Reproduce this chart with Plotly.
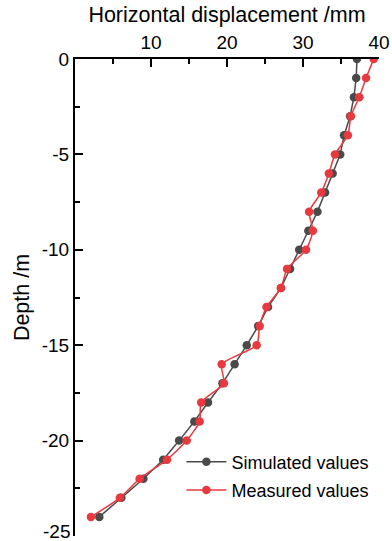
import plotly.graph_objects as go

depth = [0, -1, -2, -3, -4, -5, -6, -7, -8, -9, -10, -11, -12, -13, -14, -15, -16, -17, -18, -19, -20, -21, -22, -23, -24]
simulated = [37.1, 37.0, 36.7, 36.2, 35.4, 34.9, 33.9, 32.9, 31.9, 30.7, 29.5, 28.3, 27.1, 25.4, 24.1, 22.6, 21.0, 19.4, 17.5, 15.7, 13.7, 11.6, 9.0, 6.1, 3.2]
measured = [39.3, 38.3, 37.4, 36.3, 35.9, 34.2, 33.4, 32.4, 30.8, 31.3, 30.4, 27.9, 27.1, 25.2, 24.3, 23.9, 19.3, 19.6, 16.6, 16.4, 14.7, 12.1, 8.5, 5.9, 2.1]

x_ticks = [10, 20, 30, 40]
y_ticks = [0, -5, -10, -15, -20, -25]
y_tick_labels = ["0", "-5", "-10", "-15", "-20", ""]
bottom_label = "-25"

grey = "#4a4a4a"
red = "#e8393f"
font = "Liberation Sans, Arial, sans-serif"

fig = go.Figure()
fig.add_trace(go.Scatter(x=simulated, y=depth, mode="lines+markers", name="Simulated values",
                         line=dict(color=grey, width=1.5), marker=dict(color=grey, size=8.5),
                         legend="legend"))
fig.add_trace(go.Scatter(x=measured, y=depth, mode="lines+markers", name="Measured values",
                         line=dict(color=red, width=1.5, shape="spline", smoothing=0.6),
                         marker=dict(color=red, size=8.5), legend="legend2"))

leg = dict(xanchor="left", yanchor="middle", bgcolor="rgba(0,0,0,0)",
           font=dict(size=18, family=font, color="black"), itemwidth=40)

fig.add_annotation(text=bottom_label, xref="paper", x=0, yref="y", y=y_ticks[-1],
                   xanchor="right", yanchor="middle", xshift=-3, yshift=5, showarrow=False,
                   font=dict(size=19, family=font, color="black"))

fig.update_layout(
    width=392, height=541,
    margin=dict(l=75, r=13, t=59, b=5),
    paper_bgcolor="white", plot_bgcolor="white",
    font=dict(family=font, size=19, color="black"),
    showlegend=True,
    legend=dict(x=0.35, y=0.155, **leg),
    legend2=dict(x=0.35, y=0.096, **leg),
    xaxis=dict(side="top", range=[0, 40], tickvals=x_ticks, ticks="inside", ticklen=8,
               tickwidth=2, tickcolor="black", showline=True, linecolor="black", linewidth=2,
               showgrid=False, zeroline=False, mirror=False, ticklabeloverflow="allow",
               automargin=False,
               minor=dict(tickvals=[5, 15, 25, 35], ticks="inside", ticklen=5, tickwidth=2, tickcolor="black"),
               title=dict(text="Horizontal displacement /mm", standoff=4, font=dict(size=21.5))),
    yaxis=dict(range=[-25, 0], tickvals=y_ticks, ticktext=y_tick_labels, ticks="inside", ticklen=8,
               tickwidth=2, tickcolor="black", showline=True, linecolor="black", linewidth=2,
               showgrid=False, zeroline=False, ticklabeloverflow="allow", automargin=False,
               minor=dict(tickvals=[-2.5, -7.5, -12.5, -17.5, -22.5], ticks="inside", ticklen=5, tickwidth=2, tickcolor="black"),
               title=dict(text="Depth /m", standoff=6, font=dict(size=21.5))),
)

fig.write_html("out.html")
